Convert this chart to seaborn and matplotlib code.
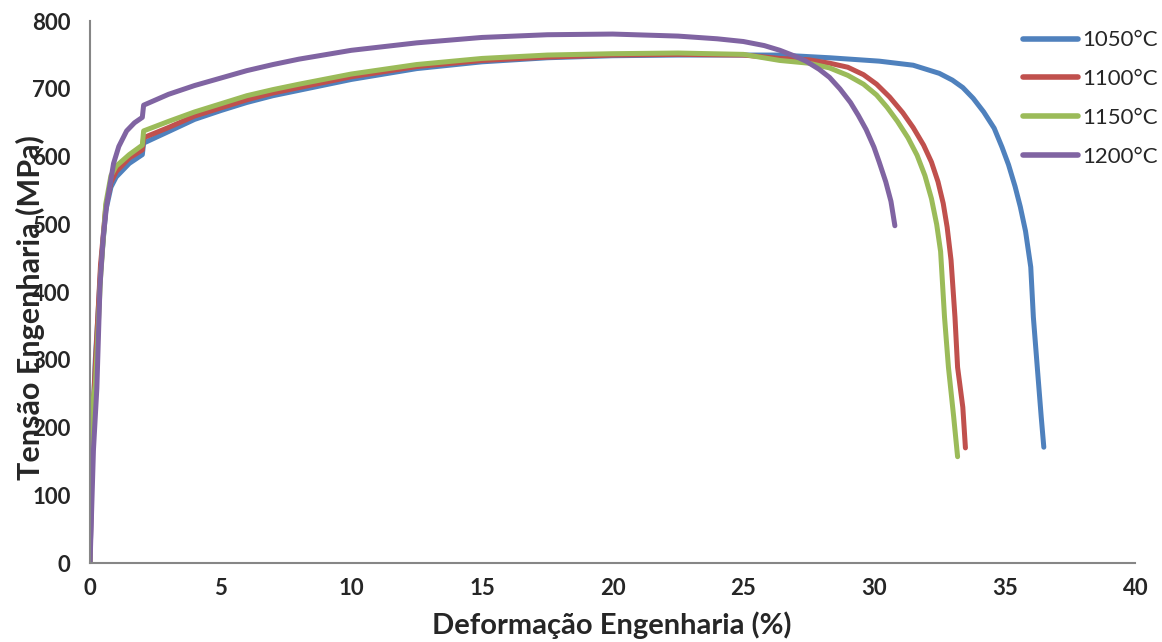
import matplotlib
matplotlib.use("Agg")
import matplotlib.pyplot as plt
import seaborn as sns
import pandas as pd
from matplotlib.ticker import MultipleLocator

# Engineering stress-strain curves for four heat-treatment temperatures
strain_1050 = [0, 0.1, 0.2, 0.4, 0.6, 0.8, 1.0, 1.5, 2.0, 2.05, 3, 4, 5, 6, 7, 8, 10,
               12.5, 15, 17.5, 20, 22.5, 25, 26.4, 28.3, 30.2, 31.5, 32.5, 33.0, 33.4,
               33.8, 34.2, 34.6, 34.9, 35.15, 35.4, 35.6, 35.8, 36.0, 36.1, 36.25,
               36.4, 36.5]
stress_1050 = [0, 200, 300, 430, 520, 555, 570, 590, 603, 620, 637, 655, 668, 680, 690,
               698, 714, 730, 740, 746, 749, 750, 750, 750, 746, 741, 735, 723, 713,
               702, 686, 666, 642, 614, 588, 556, 526, 490, 437, 363, 289, 216, 171]

strain_1100 = [0, 0.1, 0.2, 0.4, 0.6, 0.8, 1.0, 1.5, 2.0, 2.05, 3, 4, 5, 6, 7, 8, 10,
               12.5, 15, 17.5, 20, 22.5, 25, 26.4, 27.5, 28.3, 29.0, 29.6, 30.1, 30.6,
               31.1, 31.5, 31.9, 32.2, 32.45, 32.65, 32.8, 32.95, 33.1, 33.2, 33.4, 33.5]
stress_1100 = [0, 210, 290, 440, 525, 562, 578, 598, 610, 628, 643, 660, 672, 684, 694,
               702, 718, 733, 742, 747, 750, 751, 750, 745, 743, 738, 732, 721, 707, 688,
               665, 643, 617, 592, 563, 531, 496, 447, 363, 289, 230, 170]

strain_1150 = [0, 0.06, 0.2, 0.25, 0.4, 0.6, 0.8, 1.0, 1.5, 2.0, 2.05, 3, 4, 5, 6, 7, 8,
               10, 12.5, 15, 17.5, 20, 22.5, 25, 26.4, 27.5, 28.3, 29.0, 29.6, 30.1,
               30.5, 30.9, 31.3, 31.65, 31.95, 32.2, 32.4, 32.55, 32.7, 32.85, 33.05,
               33.2]
stress_1150 = [0, 227, 262, 300, 420, 530, 572, 586, 603, 617, 638, 652, 666, 678, 690,
               699, 707, 722, 736, 745, 750, 752, 753, 751, 742, 738, 731, 720, 707, 691,
               673, 652, 628, 602, 572, 538, 500, 460, 363, 289, 216, 157]

strain_1200 = [0, 0.13, 0.26, 0.38, 0.5, 0.64, 0.9, 1.1, 1.4, 1.7, 2.0, 2.05, 3, 4, 5, 6,
               7, 8, 10, 12.5, 15, 17.5, 20, 22.5, 24, 25, 25.8, 26.4, 27.0, 27.4, 27.9,
               28.3, 28.7, 29.1, 29.4, 29.7, 30.0, 30.2, 30.45, 30.65, 30.8]
stress_1200 = [0, 167, 258, 409, 480, 530, 590, 615, 638, 650, 658, 676, 692, 705, 716,
               727, 736, 744, 757, 768, 776, 780, 781, 778, 774, 770, 764, 757, 748,
               741, 729, 717, 700, 680, 661, 640, 614, 592, 563, 534, 498]

labels = ["1050°C", "1100°C", "1150°C", "1200°C"]
colors = ["#4F81BD", "#C0504D", "#9BBB59", "#8064A2"]

frames = []
for lab, xs, ys in zip(labels,
                       [strain_1050, strain_1100, strain_1150, strain_1200],
                       [stress_1050, stress_1100, stress_1150, stress_1200]):
    frames.append(pd.DataFrame({"strain": xs, "stress": ys, "temp": lab}))
df = pd.concat(frames, ignore_index=True)

sns.set_style("white")
plt.rcParams["font.family"] = ["Lato", "DejaVu Sans"]

fig = plt.figure(figsize=(11.62, 6.42), dpi=100)
ax = fig.add_axes([0.0775, 0.123, 0.8995, 0.844])

# one continuous path per temperature, drawn in data order
for lab, col in zip(labels, colors):
    sub = df[df["temp"] == lab]
    sns.lineplot(data=sub, x="strain", y="stress", sort=False, estimator=None,
                 color=col, linewidth=3.6, ax=ax, label=lab,
                 solid_capstyle="round", solid_joinstyle="round")

ax.set_xlim(0, 40)
ax.set_ylim(0, 800)
ax.xaxis.set_major_locator(MultipleLocator(5))
ax.xaxis.set_minor_locator(MultipleLocator(1))
ax.yaxis.set_major_locator(MultipleLocator(100))
ax.yaxis.set_minor_locator(MultipleLocator(20))

for s in ["top", "right"]:
    ax.spines[s].set_visible(False)
for s in ["left", "bottom"]:
    ax.spines[s].set_color("#868686")
    ax.spines[s].set_linewidth(1.5)

ax.tick_params(axis="both", which="major", direction="out", length=6, width=1.5,
               color="#868686", labelsize=16)
ax.tick_params(axis="both", which="minor", direction="out", length=4, width=1.5,
               color="#868686")
ax.tick_params(axis="x", which="major", pad=5)
ax.tick_params(axis="y", which="major", pad=8)
for t in ax.get_xticklabels() + ax.get_yticklabels():
    t.set_fontweight("bold")

ax.set_xlabel("Deformação Engenharia (%)", fontsize=21, fontweight="bold")
ax.set_ylabel("Tensão Engenharia (MPa)", fontsize=22, fontweight="bold")
ax.xaxis.set_label_coords(0.4995, -0.09)
ax.yaxis.set_label_coords(-0.043, 0.472)

leg = ax.legend(loc="upper left", bbox_to_anchor=(0.873, 1.02), frameon=False,
                fontsize=16, handlelength=2.5, handletextpad=0.2, labelspacing=0.85)
for h in leg.get_lines():
    h.set_linewidth(4)

fig.savefig("out.png", dpi=100)
